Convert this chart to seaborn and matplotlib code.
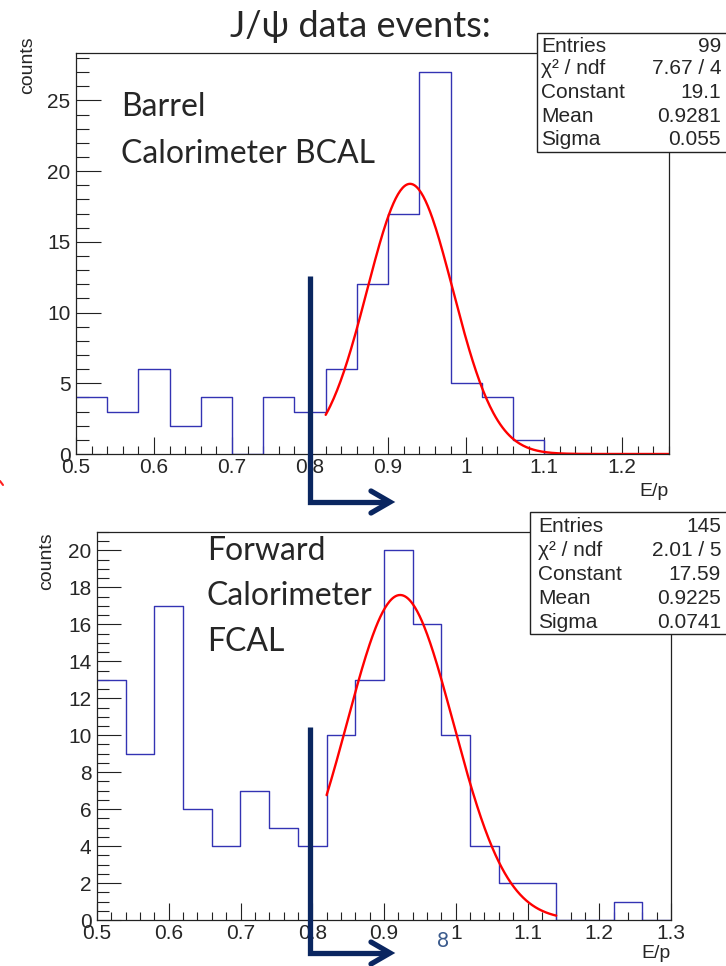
import numpy as np
import pandas as pd
import seaborn as sns
import matplotlib
matplotlib.use("Agg")
import matplotlib.pyplot as plt
from matplotlib.lines import Line2D
from matplotlib.patches import Rectangle
from matplotlib.ticker import MultipleLocator, FuncFormatter

# ---------------- data ----------------
bcal_counts = [4, 3, 6, 2, 4, 0, 4, 3, 6, 12, 17, 27, 5, 4, 1, 0, 0, 0, 0]
fcal_counts = [13, 9, 17, 6, 4, 7, 5, 4, 10, 13, 20, 16, 10, 4, 2, 2, 0, 0, 1, 0]
bin_start = 0.5
bin_width = 0.04

bcal_stats_labels = ["Entries", "χ² / ndf", "Constant", "Mean", "Sigma"]
bcal_stats_values = ["99", "7.67 / 4", "19.1", "0.9281", "0.055"]
fcal_stats_values = ["145", "2.01 / 5", "17.59", "0.9225", "0.0741"]

bcal_fit = {"const": 19.1, "mean": 0.9281, "sigma": 0.055, "lo": 0.82, "hi": 1.26}
fcal_fit = {"const": 17.59, "mean": 0.9225, "sigma": 0.0741, "lo": 0.82, "hi": 1.14}

# ---------------- figure ----------------
W, H = 726, 966
sns.set_style("ticks")
plt.rcParams["font.family"] = ["Liberation Sans", "DejaVu Sans"]
fig = plt.figure(figsize=(W / 100, H / 100), dpi=100)
fig.patch.set_facecolor("white")

def fx(x):
    return x / W

def fy(y):
    return 1 - y / H

HIST_COLOR = "#3333b3"
NAVY = "#0a2660"


def draw_panel(ax, counts, fit, xmax, ymax, ymajor, yminor, ylen):
    n = len(counts)
    edges = [round(bin_start + bin_width * k, 4) for k in range(n + 1)]
    centers = [(edges[k] + edges[k + 1]) / 2 for k in range(n)]
    df = pd.DataFrame({"Ep": centers, "w": counts})
    sns.histplot(data=df, x="Ep", weights="w", bins=edges, element="step",
                 fill=False, color=HIST_COLOR, linewidth=1.0, ax=ax)
    xs = np.linspace(fit["lo"], fit["hi"], 300)
    ys = fit["const"] * np.exp(-0.5 * ((xs - fit["mean"]) / fit["sigma"]) ** 2)
    sns.lineplot(x=xs, y=ys, color="#ff0000", linewidth=1.7, ax=ax)
    ax.set_xlim(0.5, xmax)
    ax.set_ylim(0, ymax)
    ax.set_xlabel("")
    ax.set_ylabel("")
    ax.xaxis.set_major_locator(MultipleLocator(0.1))
    ax.xaxis.set_minor_locator(MultipleLocator(0.02))
    ax.yaxis.set_major_locator(MultipleLocator(ymajor))
    ax.yaxis.set_minor_locator(MultipleLocator(yminor))
    ax.xaxis.set_major_formatter(FuncFormatter(lambda v, p: "%g" % round(v, 3)))
    ax.yaxis.set_major_formatter(FuncFormatter(lambda v, p: "%g" % v))
    ax.tick_params(axis="both", which="both", direction="in", top=False, right=False,
                   labelsize=15, width=0.8, color="#222222")
    ax.tick_params(axis="x", which="major", length=12, pad=3)
    ax.tick_params(axis="x", which="minor", length=6)
    ax.tick_params(axis="y", which="major", length=ylen, pad=4)
    ax.tick_params(axis="y", which="minor", length=ylen / 2)
    for s in ax.spines.values():
        s.set_visible(True)
        s.set_linewidth(0.9)
        s.set_color("#222222")
    ax.set_facecolor("white")


ax1 = fig.add_axes([fx(76), fy(454), (669 - 76) / W, (454 - 53) / H])
draw_panel(ax1, bcal_counts, bcal_fit, 1.26, 28.35, 5, 1, 18)
ax2 = fig.add_axes([fx(97), fy(920), (671 - 97) / W, (920 - 532) / H])
draw_panel(ax2, fcal_counts, fcal_fit, 1.3, 21, 2, 0.5, 17)

# axis titles
fig.text(fx(669), fy(492), "E/p", ha="right", va="center", fontsize=14)
fig.text(fx(671), fy(953), "E/p", ha="right", va="center", fontsize=14)
fig.text(fx(28), fy(36), "counts", rotation=90, ha="center", va="top", fontsize=14)
fig.text(fx(47), fy(532), "counts", rotation=90, ha="center", va="top", fontsize=14)

# stats boxes
def stats_box(x0, y0, y1, labels, values, row_y, lab_x, val_x):
    fig.add_artist(Rectangle((fx(x0), fy(y1)), (730 - x0) / W, (y1 - y0) / H,
                             transform=fig.transFigure, facecolor="white",
                             edgecolor="#222222", linewidth=1.0, zorder=10))
    for lab, val, ry in zip(labels, values, row_y):
        fig.text(fx(lab_x), fy(ry), lab, ha="left", va="center", fontsize=15, zorder=11)
        fig.text(fx(val_x), fy(ry), val, ha="right", va="center", fontsize=15, zorder=11)

stats_box(537, 33, 152, bcal_stats_labels, bcal_stats_values,
          [46, 69, 93, 116, 139], 541, 721)
stats_box(530, 512, 634, bcal_stats_labels, fcal_stats_values,
          [526, 550, 575, 599, 622], 538, 721)

# slide annotations
CAL = ["Lato", "DejaVu Sans"]
fig.text(fx(360), fy(37), "J/ψ data events:", ha="center", va="baseline",
         fontsize=26, family=CAL)
fig.text(fx(121), fy(116), "Barrel", ha="left", va="baseline", fontsize=23, family=CAL)
fig.text(fx(121), fy(163), "Calorimeter BCAL", ha="left", va="baseline", fontsize=23, family=CAL)
fig.text(fx(207), fy(560), "Forward", ha="left", va="baseline", fontsize=23, family=CAL)
fig.text(fx(207), fy(605), "Calorimeter", ha="left", va="baseline", fontsize=23, family=CAL)
fig.text(fx(207), fy(651), "FCAL", ha="left", va="baseline", fontsize=23, family=CAL)
fig.text(fx(443), fy(941), "8", ha="center", va="center", fontsize=15,
         color="#3a5a8c", family=CAL)

def cut_arrow(xv, ytop, ybot, xtip):
    fig.add_artist(Line2D([fx(xv), fx(xv), fx(xtip - 2)], [fy(ytop), fy(ybot), fy(ybot)],
                          transform=fig.transFigure, color=NAVY, linewidth=3.8,
                          solid_joinstyle="miter", solid_capstyle="butt", zorder=20))
    fig.add_artist(Line2D([fx(xtip - 19), fx(xtip), fx(xtip - 19)],
                          [fy(ybot - 11), fy(ybot), fy(ybot + 11)],
                          transform=fig.transFigure, color=NAVY, linewidth=3.8,
                          solid_joinstyle="miter", solid_capstyle="round", zorder=20))

cut_arrow(310, 276, 502, 390)
cut_arrow(310, 727, 953, 390)

# small red mark at the left edge
fig.add_artist(Line2D([fx(0), fx(3)], [fy(481), fy(485)], transform=fig.transFigure,
                      color="#ff2020", linewidth=1.5))

fig.savefig("out.png", dpi=100, facecolor="white")
